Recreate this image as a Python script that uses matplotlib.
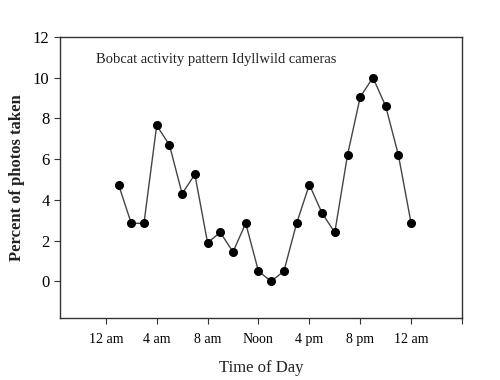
import matplotlib
matplotlib.use("Agg")
import matplotlib.pyplot as plt

# ── Data ─────────────────────────────────────────────────────────────────────
hours = list(range(1, 25))
percent = [4.75, 2.85, 2.85, 7.65, 6.7, 4.3, 5.25, 1.9, 2.4, 1.45, 2.85, 0.5,
           0.0, 0.5, 2.85, 4.75, 3.35, 2.4, 6.2, 9.05, 10.0, 8.6, 6.2, 2.85]
tick_hours = [0, 4, 8, 12, 16, 20, 24, 28]
tick_labels = ["12 am", "4 am", "8 am", "Noon", "4 pm", "8 pm", "12 am", ""]
y_ticks = [0, 2, 4, 6, 8, 10, 12]

plt.rcParams["font.family"] = ["Liberation Serif", "DejaVu Serif"]

fig = plt.figure(figsize=(5, 3.8), dpi=100)
fig.patch.set_facecolor("white")
ax = fig.add_axes([0.12, 0.163, 0.804, 0.740])

ax.plot(hours, percent, color="#444444", lw=1.0, marker="o",
        markersize=5.5, markerfacecolor="black", markeredgecolor="black")

ax.set_xlim(-3.6, 28)
ax.set_ylim(-1.8, 12)
ax.set_xticks(tick_hours)
ax.set_xticklabels(tick_labels, fontsize=10)
ax.set_yticks(y_ticks)
ax.tick_params(axis="y", labelsize=12, length=4, direction="out", color="#333333")
ax.tick_params(axis="x", length=4, direction="out", color="#333333", pad=7)

for s in ax.spines.values():
    s.set_color("#333333")
    s.set_linewidth(1.0)

ax.text(0.09, 0.92, "Bobcat activity pattern Idyllwild cameras",
        transform=ax.transAxes, fontsize=10.5, color="#222222",
        ha="left", va="center")

ax.set_ylabel("Percent of photos taken", fontsize=12, fontweight="bold",
              color="#222222", labelpad=6)
ax.set_xlabel("Time of Day", fontsize=12, color="#222222", labelpad=10)

plt.savefig("out.png", dpi=100, facecolor="white")
